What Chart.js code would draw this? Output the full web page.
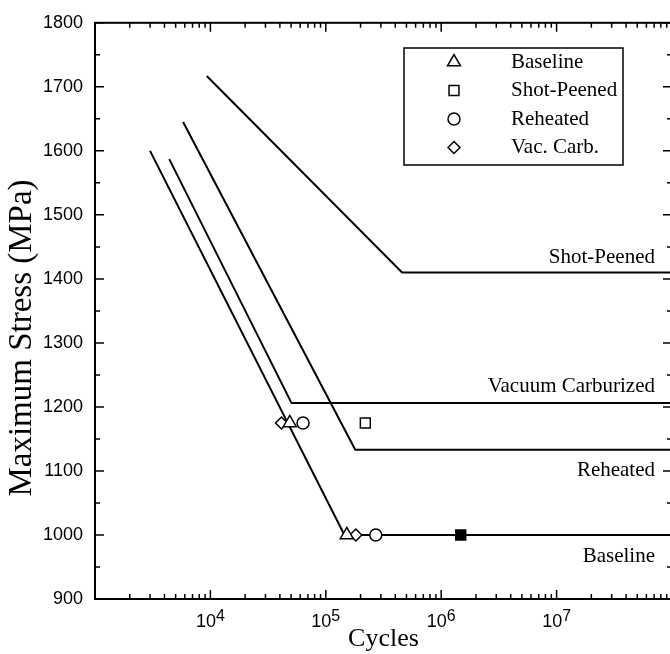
<!DOCTYPE html>
<html>
<head>
<meta charset="utf-8">
<script src="https://cdn.jsdelivr.net/npm/chart.js@4.4.0/dist/chart.umd.min.js"></script>
<style>
html, body { margin: 0; padding: 0; overflow: hidden; background: #fff; }
#wrap { width: 700px; height: 654px; }
canvas { display: block; }
</style>
</head>
<body>
<div id="wrap"><canvas id="myChart" width="676" height="654" style="width:676px;height:654px"></canvas></div>
<script>
// fitted S-N curves (start of slope, knee, run-out level)
const baselineLine = [{x: 3000, y: 1600}, {x: 145000, y: 1000}, {x: 1e8, y: 1000}];
const shotPeenedLine = [{x: 9300, y: 1717}, {x: 458000, y: 1410}, {x: 1e8, y: 1410}];
const reheatedLine = [{x: 5800, y: 1645}, {x: 180000, y: 1133}, {x: 1e8, y: 1133}];
const vacCarbLine = [{x: 4400, y: 1587}, {x: 50500, y: 1206}, {x: 1e8, y: 1206}];

// test points
const baselinePts = [{x: 48700, y: 1175}, {x: 152000, y: 1000}];
const shotPeenedPts = [{x: 220000, y: 1175}];
const reheatedPts = [{x: 63500, y: 1175}, {x: 271000, y: 1000}];
const vacCarbPts = [{x: 41300, y: 1175}, {x: 182000, y: 1000}];
const runoutPts = [{x: 1476000, y: 1000}];

const legendLabels = ['Baseline', 'Shot-Peened', 'Reheated', 'Vac. Carb.'];
const curveLabels = ['Shot-Peened', 'Vacuum Carburized', 'Reheated', 'Baseline'];
const yTickValues = [900, 1000, 1100, 1200, 1300, 1400, 1500, 1600, 1700, 1800];
const xTickExponents = [4, 5, 6, 7];

const SERIF = '"Liberation Serif", "Times New Roman", serif';
const SANS = '"Liberation Sans", Arial, sans-serif';

function lineSet(data) {
    return {data: data, showLine: true, borderColor: '#000', borderWidth: 2,
        pointRadius: 0, fill: false, tension: 0, order: 2};
}

function pointSet(label, data, style, radius, fillColor) {
    return {label: label, data: data, showLine: false, pointStyle: style,
        pointRadius: radius, pointBackgroundColor: fillColor || '#fff',
        pointBorderColor: '#000', pointBorderWidth: 1.5, order: 1};
}

function drawMarker(ctx, style, radius, x, y) {
    if (Chart.helpers && Chart.helpers.drawPoint) {
        Chart.helpers.drawPoint(ctx, {pointStyle: style, radius: radius, borderWidth: 1.5, rotation: 0}, x, y);
    }
}

const decorations = {
    id: 'decorations',
    afterDraw(chart) {
        const {ctx, chartArea: a, scales: {x, y}} = chart;
        ctx.save();
        ctx.strokeStyle = '#000';
        ctx.fillStyle = '#000';

        // inward tick marks on all four sides
        ctx.lineWidth = 1.5;
        ctx.beginPath();
        for (let v = 900; v <= 1800; v += 50) {
            const py = y.getPixelForValue(v);
            const len = v % 100 === 0 ? 9 : 5;
            ctx.moveTo(a.left, py); ctx.lineTo(a.left + len, py);
            ctx.moveTo(a.right, py); ctx.lineTo(a.right - len, py);
        }
        for (let e = 3; e <= 7; e++) {
            for (let m = 1; m <= 9; m++) {
                const px = x.getPixelForValue(m * Math.pow(10, e));
                const len = m === 1 ? 9 : 5;
                ctx.moveTo(px, a.bottom); ctx.lineTo(px, a.bottom - len);
                ctx.moveTo(px, a.top); ctx.lineTo(px, a.top + len);
            }
        }
        ctx.stroke();

        // frame
        ctx.lineWidth = 2;
        ctx.strokeRect(a.left, a.top, a.right - a.left, a.bottom - a.top);

        // x tick labels 10^n
        ctx.textBaseline = 'alphabetic';
        ctx.textAlign = 'left';
        xTickExponents.forEach(e => {
            const px = x.getPixelForValue(Math.pow(10, e));
            ctx.font = '18px ' + SANS;
            const w1 = ctx.measureText('10').width;
            ctx.font = '16px ' + SANS;
            const w2 = ctx.measureText(String(e)).width;
            const x0 = px - (w1 + w2) / 2;
            ctx.font = '18px ' + SANS;
            ctx.fillText('10', x0, a.bottom + 28);
            ctx.font = '16px ' + SANS;
            ctx.fillText(String(e), x0 + w1, a.bottom + 22);
        });

        // y axis title
        ctx.save();
        ctx.translate(22, 338);
        ctx.rotate(-Math.PI / 2);
        ctx.textAlign = 'center';
        ctx.textBaseline = 'middle';
        ctx.font = '33px ' + SERIF;
        ctx.fillText('Maximum Stress (MPa)', 0, 0);
        ctx.restore();

        // labels at the right end of each curve
        const levels = [shotPeenedLine[2].y, vacCarbLine[2].y, reheatedLine[2].y, baselineLine[2].y];
        const offsets = [-9, -11, 26, 27];
        ctx.font = '21px ' + SERIF;
        ctx.textAlign = 'right';
        curveLabels.forEach((txt, i) => {
            ctx.fillText(txt, a.right - 17, y.getPixelForValue(levels[i]) + offsets[i]);
        });

        // legend box
        ctx.lineWidth = 1.5;
        ctx.strokeRect(404, 48, 219, 117);
        const sets = chart.data.datasets.filter(d => d.label && legendLabels.indexOf(d.label) >= 0);
        ctx.textAlign = 'left';
        ctx.textBaseline = 'middle';
        sets.forEach((d, i) => {
            const ry = 62 + i * 28.5;
            ctx.fillStyle = '#fff';
            ctx.strokeStyle = '#000';
            ctx.lineWidth = 1.5;
            drawMarker(ctx, d.pointStyle, d.pointRadius, 454, ry);
            ctx.fillStyle = '#000';
            ctx.fillText(d.label, 511, ry);
        });
        ctx.restore();
    }
};

const ctx = document.getElementById('myChart').getContext('2d');

new Chart(ctx, {
    type: 'scatter',
    data: {
        datasets: [
            lineSet(baselineLine),
            lineSet(shotPeenedLine),
            lineSet(reheatedLine),
            lineSet(vacCarbLine),
            pointSet(legendLabels[0], baselinePts, 'triangle', 7.5),
            pointSet(legendLabels[1], shotPeenedPts, 'rect', 7),
            pointSet(legendLabels[2], reheatedPts, 'circle', 6),
            pointSet(legendLabels[3], vacCarbPts, 'rectRot', 6),
            pointSet('', runoutPts, 'rect', 7, '#000')
        ]
    },
    options: {
        responsive: false,
        animation: false,
        devicePixelRatio: 1,
        layout: {autoPadding: false, padding: {left: 0, top: 20, right: 4, bottom: 0}},
        plugins: {legend: {display: false}, tooltip: {enabled: false}},
        scales: {
            x: {
                type: 'logarithmic', min: 1000, max: 1e8,
                grid: {display: false, drawTicks: false},
                border: {display: false},
                ticks: {display: false},
                title: {display: true, text: 'Cycles', color: '#000',
                    font: {family: SERIF, size: 26, lineHeight: 1.14}, padding: 0},
                afterFit(s) { s.height = 55; }
            },
            y: {
                min: 900, max: 1800,
                grid: {display: false, drawTicks: false},
                border: {display: false},
                ticks: {stepSize: 100, color: '#000', padding: 12,
                    font: {family: SANS, size: 18},
                    callback: v => yTickValues.indexOf(v) >= 0 ? String(v) : ''},
                afterFit(s) { s.width = 95; }
            }
        }
    },
    plugins: [decorations]
});
</script>
</body>
</html>
